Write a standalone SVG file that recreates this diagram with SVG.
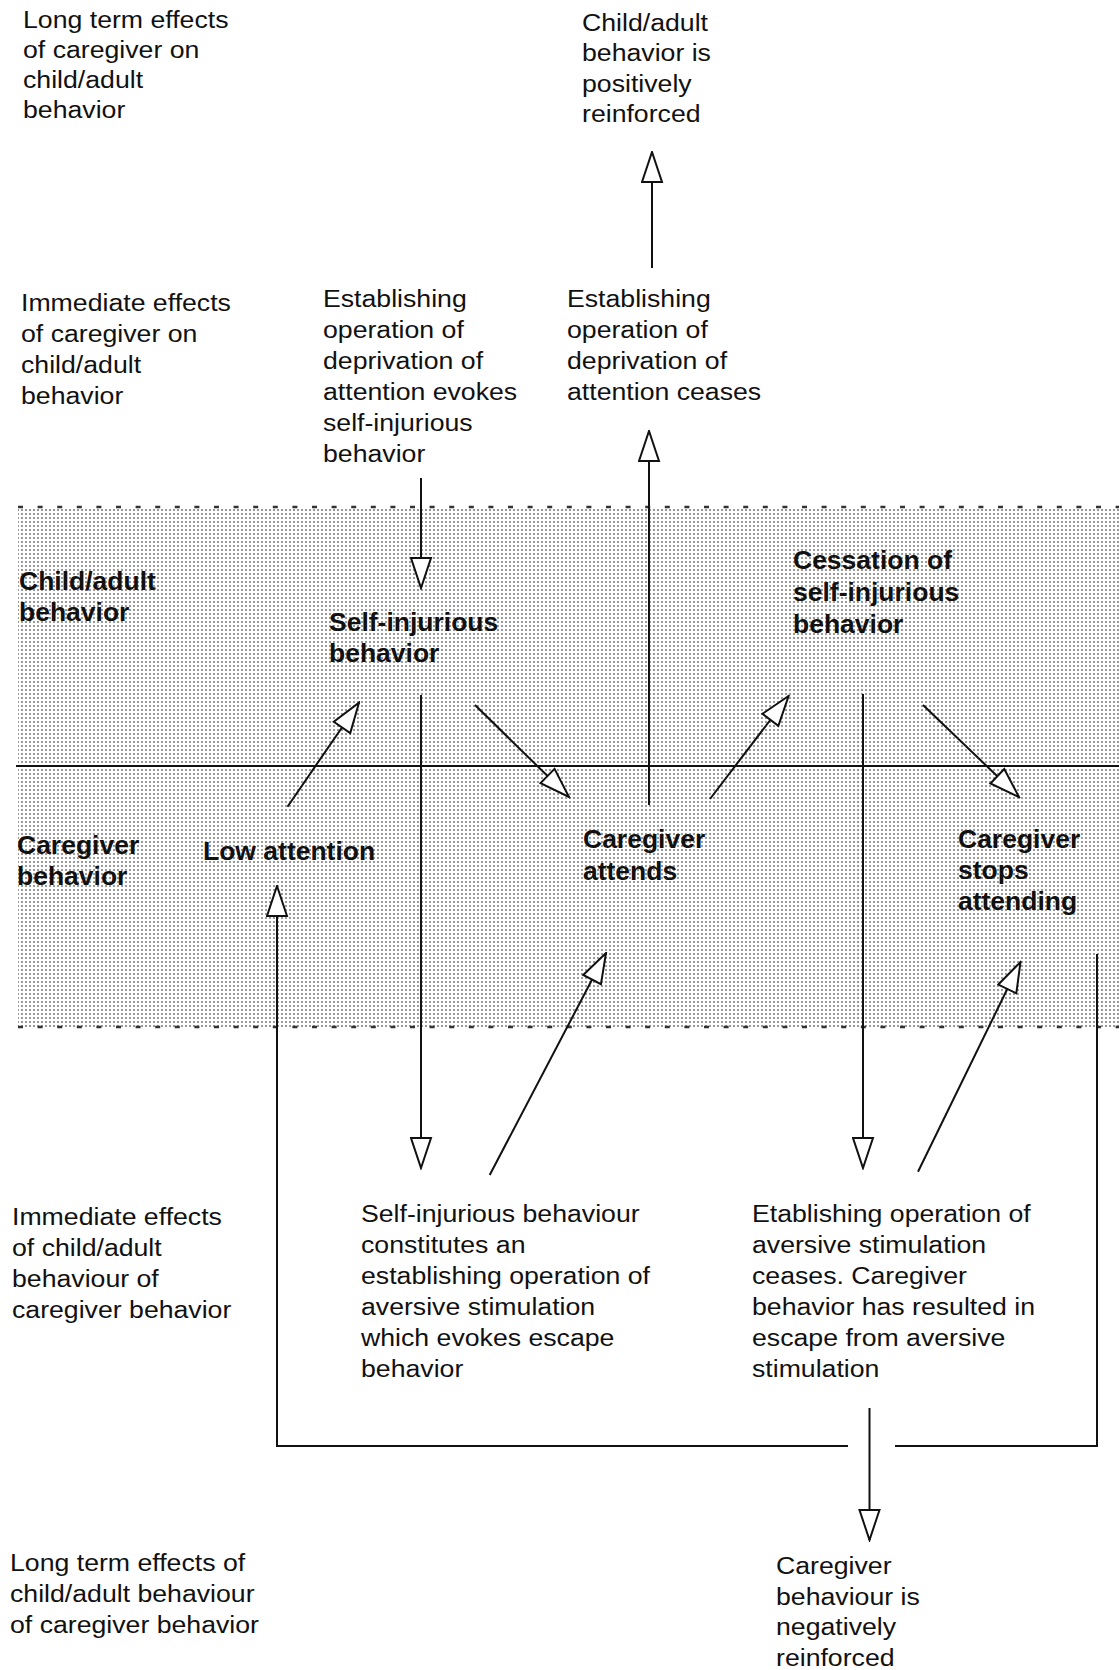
<svg xmlns="http://www.w3.org/2000/svg" width="1119" height="1670" viewBox="0 0 1119 1670">
<style>
.r{font-family:"Liberation Sans",Arial,sans-serif;font-size:23px;fill:#111}
.b{font-family:"Liberation Sans",Arial,sans-serif;font-size:25px;font-weight:bold;fill:#111}
.ln{fill:none;stroke:#111;stroke-width:2}
.ar{fill:none;stroke:#111;stroke-width:2;marker-end:url(#ah)}
.dash{fill:none;stroke:#333;stroke-width:2.5;stroke-dasharray:5 14.6}
</style>
<defs>
<pattern id="dots" width="4" height="4" patternUnits="userSpaceOnUse">
<rect width="4" height="4" fill="#fff"/>
<rect x="1" y="1" width="2" height="2" fill="#9a9a9a"/>
</pattern>
<marker id="ah" markerUnits="userSpaceOnUse" orient="auto" viewBox="0 0 33 23" markerWidth="33" markerHeight="23" refX="31.5" refY="11.5">
<path d="M1.5,1.5 L31.5,11.5 L1.5,21.5 Z" fill="#fff" stroke="#111" stroke-width="2"/>
</marker>
</defs>
<rect width="1119" height="1670" fill="#fff"/>
<g id="band">
<rect x="18" y="507" width="1101" height="520" fill="url(#dots)"/>
<line class="dash" x1="18" y1="507" x2="1119" y2="507"/>
<line class="dash" x1="18" y1="1027" x2="1119" y2="1027"/>
<line class="ln" x1="16" y1="766" x2="1119" y2="766"/>
</g>
<g id="connectors">
<line class="ar" x1="652" y1="268" x2="652" y2="152"/>
<line class="ar" x1="421" y1="478" x2="421" y2="588"/>
<line class="ar" x1="649" y1="805" x2="649" y2="431"/>
<line class="ar" x1="287.5" y1="806.7" x2="359" y2="702.7"/>
<line class="ar" x1="475" y1="705" x2="569" y2="797"/>
<line class="ar" x1="421" y1="695" x2="421" y2="1168"/>
<line class="ar" x1="489.7" y1="1175" x2="606" y2="953"/>
<line class="ar" x1="710" y1="799" x2="788.6" y2="696"/>
<line class="ar" x1="863" y1="694" x2="863" y2="1168"/>
<line class="ar" x1="923" y1="705" x2="1019" y2="797"/>
<line class="ar" x1="918" y1="1171.7" x2="1020.5" y2="962"/>
<polyline class="ln" points="1097,954 1097,1446 895,1446"/>
<polyline class="ar" points="848,1446 277,1446 277,886"/>
<line class="ar" x1="869.5" y1="1408" x2="869.5" y2="1540"/>
</g>
<g id="label-long-term-caregiver"><text class="r" transform="translate(23,28) scale(1.16 1)"><tspan x="0" y="0">Long term effects</tspan><tspan x="0" y="30">of caregiver on</tspan><tspan x="0" y="60">child/adult</tspan><tspan x="0" y="90">behavior</tspan></text></g>
<g id="node-positively-reinforced"><text class="r" transform="translate(582,31) scale(1.16 1)"><tspan x="0" y="0">Child/adult</tspan><tspan x="0" y="30.5">behavior is</tspan><tspan x="0" y="61">positively</tspan><tspan x="0" y="91.5">reinforced</tspan></text></g>
<g id="label-immediate-caregiver"><text class="r" transform="translate(21,311) scale(1.16 1)"><tspan x="0" y="0">Immediate effects</tspan><tspan x="0" y="31">of caregiver on</tspan><tspan x="0" y="62">child/adult</tspan><tspan x="0" y="93">behavior</tspan></text></g>
<g id="node-eo-evokes"><text class="r" transform="translate(323,307) scale(1.16 1)"><tspan x="0" y="0">Establishing</tspan><tspan x="0" y="31">operation of</tspan><tspan x="0" y="62">deprivation of</tspan><tspan x="0" y="93">attention evokes</tspan><tspan x="0" y="124">self-injurious</tspan><tspan x="0" y="155">behavior</tspan></text></g>
<g id="node-eo-ceases"><text class="r" transform="translate(567,307) scale(1.16 1)"><tspan x="0" y="0">Establishing</tspan><tspan x="0" y="31">operation of</tspan><tspan x="0" y="62">deprivation of</tspan><tspan x="0" y="93">attention ceases</tspan></text></g>
<g id="label-child-behavior"><text class="b" transform="translate(19,590) scale(1.06 1)"><tspan x="0" y="0">Child/adult</tspan><tspan x="0" y="31">behavior</tspan></text></g>
<g id="node-sib"><text class="b" transform="translate(329,631) scale(1.06 1)"><tspan x="0" y="0">Self-injurious</tspan><tspan x="0" y="31">behavior</tspan></text></g>
<g id="node-cessation"><text class="b" transform="translate(793,569) scale(1.06 1)"><tspan x="0" y="0">Cessation of</tspan><tspan x="0" y="32">self-injurious</tspan><tspan x="0" y="64">behavior</tspan></text></g>
<g id="label-caregiver-behavior"><text class="b" transform="translate(17,854) scale(1.06 1)"><tspan x="0" y="0">Caregiver</tspan><tspan x="0" y="31">behavior</tspan></text></g>
<g id="node-low-attention"><text class="b" transform="translate(203,860) scale(1.06 1)">Low attention</text></g>
<g id="node-attends"><text class="b" transform="translate(583,848) scale(1.06 1)"><tspan x="0" y="0">Caregiver</tspan><tspan x="0" y="32">attends</tspan></text></g>
<g id="node-stops"><text class="b" transform="translate(958,848) scale(1.06 1)"><tspan x="0" y="0">Caregiver</tspan><tspan x="0" y="31">stops</tspan><tspan x="0" y="62">attending</tspan></text></g>
<g id="label-immediate-child"><text class="r" transform="translate(12,1225) scale(1.16 1)"><tspan x="0" y="0">Immediate effects</tspan><tspan x="0" y="31">of child/adult</tspan><tspan x="0" y="62">behaviour of</tspan><tspan x="0" y="93">caregiver behavior</tspan></text></g>
<g id="node-eo-aversive"><text class="r" transform="translate(361,1222) scale(1.16 1)"><tspan x="0" y="0">Self-injurious behaviour</tspan><tspan x="0" y="31">constitutes an</tspan><tspan x="0" y="62">establishing operation of</tspan><tspan x="0" y="93">aversive stimulation</tspan><tspan x="0" y="124">which evokes escape</tspan><tspan x="0" y="155">behavior</tspan></text></g>
<g id="node-eo-aversive-ceases"><text class="r" transform="translate(752,1222) scale(1.16 1)"><tspan x="0" y="0">Etablishing operation of</tspan><tspan x="0" y="31">aversive stimulation</tspan><tspan x="0" y="62">ceases. Caregiver</tspan><tspan x="0" y="93">behavior has resulted in</tspan><tspan x="0" y="124">escape from aversive</tspan><tspan x="0" y="155">stimulation</tspan></text></g>
<g id="label-long-term-child"><text class="r" transform="translate(10,1571) scale(1.16 1)"><tspan x="0" y="0">Long term effects of</tspan><tspan x="0" y="31">child/adult behaviour</tspan><tspan x="0" y="62">of caregiver behavior</tspan></text></g>
<g id="node-negatively-reinforced"><text class="r" transform="translate(776,1574) scale(1.16 1)"><tspan x="0" y="0">Caregiver</tspan><tspan x="0" y="30.7">behaviour is</tspan><tspan x="0" y="61.4">negatively</tspan><tspan x="0" y="92">reinforced</tspan></text></g>
</svg>
